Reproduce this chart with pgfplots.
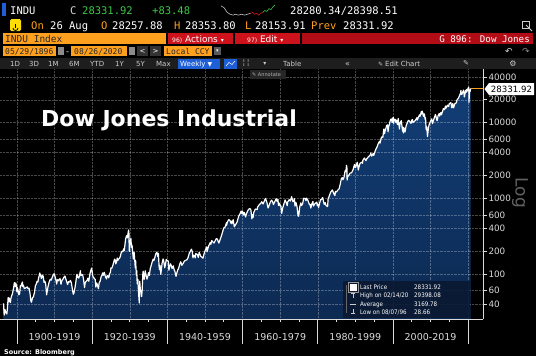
\documentclass[border=0pt]{standalone}
\usepackage{pgfplots}
\pgfplotsset{compat=1.18}
\usepackage{pgfplotstable}
\usepackage{fontspec}
\setmainfont{DejaVu Sans}
\newfontfamily\mono{DejaVu Sans Mono}
\newfontfamily\cond{DejaVu Sans Condensed}
\definecolor{bbamber}{RGB}{255,160,30}
\definecolor{bbgreen}{RGB}{60,200,70}
\definecolor{bbred}{RGB}{205,18,28}
\definecolor{bbdred}{RGB}{178,12,22}
\definecolor{bbbar}{RGB}{30,30,30}
\definecolor{bbblue}{RGB}{30,95,215}
\definecolor{filltop}{RGB}{18,62,118}
\definecolor{fillbot}{RGB}{10,32,66}
\definecolor{axc}{RGB}{218,218,218}
\definecolor{legbg}{RGB}{10,24,48}

\pgfplotstableread{
x y
1896.40 40.9
1896.45 38.5
1896.52 33.0
1896.60 28.7
1896.68 31.5
1896.80 34.0
1896.95 31.8
1897.10 30.5
1897.30 29.6
1897.45 35.0
1897.65 49.0
1897.80 43.0
1897.95 48.0
1898.10 44.0
1898.25 42.0
1898.40 48.0
1898.60 52.0
1898.80 55.0
1898.95 60.5
1899.15 68.0
1899.30 77.0
1899.45 68.0
1899.65 76.0
1899.85 71.0
1899.97 58.0
1900.10 66.0
1900.30 60.0
1900.50 53.0
1900.70 55.0
1900.90 70.0
1901.05 69.0
1901.30 75.0
1901.45 78.3
1901.55 68.0
1901.70 71.0
1901.95 64.0
1902.20 65.0
1902.45 66.0
1902.70 67.5
1902.95 64.0
1903.20 65.0
1903.45 56.0
1903.70 44.0
1903.85 42.2
1904.10 48.0
1904.40 50.5
1904.65 57.0
1904.90 70.0
1905.10 73.0
1905.35 80.0
1905.55 78.0
1905.80 91.0
1905.95 96.0
1906.05 103.0
1906.30 95.0
1906.50 87.0
1906.75 96.0
1906.95 94.0
1907.20 77.0
1907.40 80.0
1907.60 76.0
1907.88 53.0
1908.05 60.0
1908.30 70.0
1908.55 78.0
1908.85 85.0
1909.10 83.0
1909.40 91.0
1909.70 99.0
1909.90 100.5
1910.10 93.0
1910.35 84.0
1910.55 73.6
1910.75 84.0
1910.95 81.0
1911.20 84.0
1911.45 87.0
1911.70 73.0
1911.95 82.0
1912.20 85.0
1912.45 90.0
1912.75 94.0
1912.95 87.0
1913.20 80.0
1913.45 72.5
1913.70 79.0
1913.95 78.0
1914.20 82.0
1914.45 77.0
1914.55 71.4
1914.96 54.0
1915.15 56.0
1915.40 65.0
1915.60 75.0
1915.85 93.0
1915.95 99.0
1916.20 90.0
1916.45 88.0
1916.70 100.0
1916.88 110.0
1916.98 95.0
1917.20 96.0
1917.45 98.0
1917.70 85.0
1917.96 66.0
1918.15 77.0
1918.40 80.0
1918.65 82.0
1918.85 88.0
1919.10 80.0
1919.40 100.0
1919.60 110.0
1919.85 119.6
1919.98 108.0
1920.20 92.0
1920.40 90.0
1920.60 86.0
1920.80 85.0
1920.97 67.0
1921.20 76.0
1921.45 70.0
1921.65 63.9
1921.85 76.0
1922.10 80.0
1922.40 93.0
1922.60 96.0
1922.78 103.4
1922.95 96.0
1923.20 105.0
1923.40 96.0
1923.60 90.0
1923.82 86.0
1923.98 95.0
1924.20 94.0
1924.40 89.0
1924.65 101.0
1924.85 105.0
1924.98 120.0
1925.20 119.0
1925.40 125.0
1925.70 142.0
1925.95 157.0
1926.15 152.0
1926.25 136.0
1926.45 142.0
1926.65 162.0
1926.85 151.0
1926.98 157.0
1927.20 160.0
1927.45 168.0
1927.70 190.0
1927.95 200.0
1928.15 198.0
1928.40 215.0
1928.50 202.0
1928.70 240.0
1928.90 295.0
1928.98 300.0
1929.15 320.0
1929.35 300.0
1929.50 335.0
1929.68 381.2
1929.78 340.0
1929.83 230.0
1929.87 198.7
1929.98 248.0
1930.15 270.0
1930.29 294.0
1930.45 225.0
1930.60 240.0
1930.80 185.0
1930.96 157.5
1931.15 194.0
1931.35 145.0
1931.45 121.0
1931.55 150.0
1931.75 96.0
1931.85 110.0
1931.97 74.0
1932.15 85.0
1932.30 60.0
1932.52 41.2
1932.65 79.9
1932.80 62.0
1932.95 60.0
1933.15 50.2
1933.30 62.0
1933.45 98.0
1933.55 108.7
1933.70 92.0
1933.82 85.0
1933.98 100.0
1934.10 110.0
1934.40 92.0
1934.58 85.5
1934.80 93.0
1934.98 104.0
1935.20 96.0
1935.45 118.0
1935.70 130.0
1935.95 144.0
1936.20 157.0
1936.40 150.0
1936.70 168.0
1936.90 184.0
1937.20 194.4
1937.45 170.0
1937.60 187.0
1937.80 125.0
1937.90 114.0
1938.05 130.0
1938.25 99.0
1938.45 120.0
1938.60 140.0
1938.85 158.0
1939.00 150.0
1939.30 121.0
1939.55 140.0
1939.70 155.9
1939.95 150.0
1940.25 148.0
1940.40 112.0
1940.60 125.0
1940.85 136.0
1940.98 131.0
1941.25 118.0
1941.55 128.0
1941.80 113.0
1941.95 110.0
1942.30 92.9
1942.55 105.0
1942.80 114.0
1942.98 119.0
1943.30 135.0
1943.55 145.0
1943.85 130.0
1944.20 138.0
1944.50 148.0
1944.95 152.0
1945.25 155.0
1945.50 165.0
1945.85 190.0
1945.98 193.0
1946.40 212.5
1946.65 195.0
1946.80 163.1
1946.98 177.0
1947.20 175.0
1947.40 163.0
1947.55 186.0
1947.98 181.0
1948.20 165.0
1948.45 193.0
1948.85 172.0
1949.45 161.6
1949.80 188.0
1949.98 200.0
1950.45 228.0
1950.55 197.0
1950.98 235.0
1951.40 260.0
1951.55 246.0
1951.80 276.0
1951.98 269.0
1952.40 256.0
1952.98 292.0
1953.25 290.0
1953.70 255.5
1953.98 281.0
1954.50 335.0
1954.98 404.0
1955.40 420.0
1955.70 475.0
1955.75 440.0
1955.98 488.0
1956.30 521.0
1956.60 515.0
1956.85 470.0
1956.98 499.0
1957.15 460.0
1957.50 520.0
1957.80 419.8
1957.98 436.0
1958.50 480.0
1958.98 583.0
1959.30 620.0
1959.60 678.0
1959.75 630.0
1959.98 679.0
1960.20 600.0
1960.45 650.0
1960.80 566.0
1960.98 615.0
1961.40 690.0
1961.70 720.0
1961.90 734.0
1962.20 705.0
1962.47 535.8
1962.65 610.0
1962.80 558.0
1962.98 652.0
1963.40 720.0
1963.89 711.0
1963.98 762.0
1964.40 820.0
1964.98 874.0
1965.10 900.0
1965.45 840.0
1965.98 969.0
1966.10 995.0
1966.50 870.0
1966.77 744.3
1966.98 785.0
1967.40 900.0
1967.70 943.0
1967.98 905.0
1968.20 825.0
1968.55 900.0
1968.92 985.0
1969.20 905.0
1969.40 970.0
1969.55 801.0
1969.85 860.0
1969.98 800.0
1970.20 790.0
1970.40 631.0
1970.65 740.0
1970.98 838.0
1971.30 950.0
1971.60 880.0
1971.88 798.0
1971.98 890.0
1972.40 960.0
1972.70 920.0
1972.98 1020.0
1973.03 1051.0
1973.40 900.0
1973.60 920.0
1973.80 987.0
1973.93 788.0
1974.20 880.0
1974.50 760.0
1974.75 584.0
1974.85 660.0
1974.93 577.6
1975.20 770.0
1975.50 870.0
1975.70 800.0
1975.98 852.0
1976.25 1000.0
1976.70 990.0
1976.85 930.0
1976.98 1004.0
1977.40 930.0
1977.80 820.0
1977.98 831.0
1978.15 742.0
1978.45 850.0
1978.70 907.0
1978.85 790.0
1979.20 845.0
1979.75 890.0
1979.85 800.0
1980.00 838.0
1980.22 759.0
1980.45 850.0
1980.75 960.0
1980.98 964.0
1981.30 1024.0
1981.70 830.0
1981.98 875.0
1982.20 800.0
1982.61 777.0
1982.75 990.0
1982.98 1046.0
1983.40 1200.0
1983.85 1287.0
1983.98 1258.0
1984.25 1150.0
1984.55 1086.0
1984.70 1230.0
1984.98 1211.0
1985.30 1280.0
1985.65 1330.0
1985.98 1546.0
1986.25 1800.0
1986.50 1870.0
1986.70 1760.0
1986.98 1895.0
1987.25 2300.0
1987.45 2250.0
1987.65 2722.0
1987.75 2500.0
1987.80 1738.0
1987.90 1900.0
1987.98 1938.0
1988.30 2030.0
1988.60 2150.0
1988.98 2168.0
1989.40 2400.0
1989.75 2790.0
1989.80 2570.0
1989.98 2753.0
1990.05 2550.0
1990.50 2990.0
1990.78 2365.0
1990.98 2633.0
1991.25 2900.0
1991.70 3000.0
1991.90 2900.0
1991.98 3168.0
1992.40 3400.0
1992.80 3140.0
1992.98 3301.0
1993.50 3550.0
1993.98 3754.0
1994.10 3970.0
1994.30 3600.0
1994.75 3900.0
1994.90 3680.0
1994.98 3834.0
1995.40 4400.0
1995.80 4800.0
1995.98 5117.0
1996.40 5650.0
1996.55 5350.0
1996.85 6200.0
1996.98 6448.0
1997.30 6400.0
1997.55 8100.0
1997.60 8222.0
1997.78 7161.0
1997.90 7800.0
1997.98 7908.0
1998.30 9100.0
1998.55 9337.0
1998.68 7539.0
1998.85 8900.0
1998.98 9181.0
1999.30 10800.0
1999.55 11200.0
1999.80 10000.0
1999.97 11497.0
2000.05 11723.0
2000.20 9796.0
2000.30 11100.0
2000.60 11000.0
2000.80 10000.0
2000.98 10787.0
2001.20 9400.0
2001.40 11300.0
2001.72 8236.0
2001.85 9500.0
2001.98 10021.0
2002.20 10600.0
2002.55 7700.0
2002.65 8700.0
2002.77 7286.0
2002.85 8600.0
2002.98 8341.0
2003.20 7524.0
2003.50 9100.0
2003.98 10453.0
2004.20 10700.0
2004.80 9750.0
2004.98 10783.0
2005.20 10900.0
2005.30 10000.0
2005.98 10717.0
2006.35 11600.0
2006.45 10800.0
2006.98 12463.0
2007.15 12700.0
2007.20 12100.0
2007.55 14000.0
2007.65 13000.0
2007.78 14164.0
2007.95 13300.0
2008.10 12100.0
2008.35 13000.0
2008.55 11000.0
2008.65 11600.0
2008.80 8400.0
2008.88 8000.0
2008.98 8776.0
2009.18 6547.0
2009.45 8700.0
2009.70 9700.0
2009.98 10428.0
2010.30 11200.0
2010.50 9686.0
2010.98 11577.0
2011.30 12800.0
2011.45 12000.0
2011.60 11000.0
2011.75 10655.0
2011.98 12217.0
2012.30 13200.0
2012.40 12200.0
2012.75 13600.0
2012.90 12700.0
2012.98 13104.0
2013.40 15300.0
2013.70 14800.0
2013.98 16576.0
2014.10 15500.0
2014.50 17000.0
2014.80 16300.0
2014.98 17823.0
2015.40 18300.0
2015.65 15666.0
2015.90 17800.0
2015.98 17425.0
2016.10 15660.0
2016.50 17900.0
2016.85 18200.0
2016.98 19762.0
2017.40 21000.0
2017.80 23400.0
2017.98 24719.0
2018.07 26616.0
2018.12 23860.0
2018.30 23500.0
2018.75 26828.0
2018.88 24500.0
2018.98 21792.0
2019.30 26500.0
2019.40 25000.0
2019.55 27300.0
2019.65 25600.0
2019.98 28538.0
2020.12 29398.0
2020.18 25400.0
2020.22 18591.0
2020.30 23700.0
2020.45 27110.0
2020.55 25900.0
2020.65 28331.9
}\djia

\begin{document}
\begin{tikzpicture}
\fill[black] (0pt,0pt) rectangle (536pt,-356pt);
\useasboundingbox (0pt,0pt) rectangle (536pt,-356pt);

\begin{axis}[
  at={(0pt,-319pt)}, anchor=south west,
  width=483pt, height=250pt, scale only axis,
  xmin=1895.48, xmax=2023.94,
  ymode=log, ymin=25.4, ymax=51030,
  axis x line*=bottom, axis y line*=right,
  axis line style={draw=axc, line width=0.7pt},
  axis on top,
  /pgf/number format/assume math mode=true,
  ytick={40,60,100,200,400,600,1000,2000,4000,6000,10000,20000,40000},
  yticklabels={40,60,100,200,400,600,1000,2000,4000,6000,10000,20000,40000},
  yticklabel style={font=\fontsize{8.8}{10}\selectfont, text=axc, xshift=-1.5pt},
  ytick style={draw=axc, line width=0.6pt},
  ymajorgrids, xmajorgrids,
  grid style={densely dotted, draw=white, draw opacity=0.28, line width=0.5pt},
  major tick length=3.5pt, minor tick length=3pt, tick align=outside,
  xtick={1910,1930,1950,1970,1990,2010},
  xticklabels={1900-1919,1920-1939,1940-1959,1960-1979,1980-1999,2000-2019},
  xticklabel style={font=\fontsize{9.5}{11}\selectfont, text=axc, yshift=-7pt},
  xtick style={draw=axc, line width=0.6pt},
  minor xtick={1905,1915,1925,1935,1945,1955,1965,1975,1985,1995,2005,2015},
  extra x ticks={1900,1920,1940,1960,1980,2000,2020},
  extra x tick labels={},
  extra x tick style={grid=major, major tick length=25pt},
]
\addplot[draw=none, top color=filltop, bottom color=fillbot] table[x=x,y=y] {\djia} \closedcycle;
\addplot[white, line width=1.2pt, line join=round] table[x=x,y=y] {\djia};
\addplot[bbamber, line width=0.7pt] coordinates {(2020.65,28331.92) (2023.94,28331.92)};
\end{axis}

% sparkline
\begin{axis}[
  at={(221pt,-17pt)}, anchor=south west,
  width=54pt, height=13pt, scale only axis, hide axis,
  xmin=0, xmax=53, ymin=0, ymax=14, clip=false]
\addplot[white!75!black, line width=0.6pt] coordinates {(0,12) (3,10) (6,5) (9,3) (12,2) (14,3) (17,2) (20,3) (23,2) (26,3) (29,4)};
\addplot[bbred, line width=0.6pt] coordinates {(29,4) (31,5) (33,3) (35,4) (37,2) (39,4) (41,5)};
\addplot[bbgreen, line width=0.6pt] coordinates {(41,5) (43,7) (45,6) (47,9) (49,8) (51,11) (53,13)};
\end{axis}

\begin{scope}[x=1pt,y=-1pt]
% ---------- row 1
\fill[bbblue] (2,3) rectangle (6,16);
\node[anchor=base west, inner sep=0, text=white, font=\mono\fontsize{10.5}{12}\selectfont] at (10,14) {INDU};
\node[anchor=base west, inner sep=0, text=white!85!black, font=\mono\fontsize{10.5}{12}\selectfont] at (70,14) {C};
\node[anchor=base west, inner sep=0, text=bbgreen, font=\mono\fontsize{10.5}{12}\selectfont] at (82,14) {28331.92};
\node[anchor=base west, inner sep=0, text=bbgreen, font=\mono\fontsize{10.5}{12}\selectfont] at (152,14) {+83.48};
\node[anchor=base west, inner sep=0, text=white, font=\mono\fontsize{10.5}{12}\selectfont] at (290,14) {28280.34/28398.51};
% ---------- row 2
\fill[rounded corners=1.5pt, yellow!80!orange] (10,19) rectangle (21,31);
\draw[black, line width=0.8pt] (13,28) arc[start angle=180, end angle=0, radius=2.5];
\draw[black, line width=0.8pt] (15.5,28) -- (15.5,24);
\node[anchor=base west, inner sep=0, text=bbamber, font=\mono\fontsize{10.5}{12}\selectfont] at (31,29) {On};
\node[anchor=base west, inner sep=0, text=white, font=\mono\fontsize{10.5}{12}\selectfont] at (50,29) {26 Aug};
\node[anchor=base west, inner sep=0, text=bbamber, font=\mono\fontsize{10.5}{12}\selectfont] at (101,29) {O};
\node[anchor=base west, inner sep=0, text=white, font=\mono\fontsize{10.5}{12}\selectfont] at (112,29) {28257.88};
\node[anchor=base west, inner sep=0, text=bbamber, font=\mono\fontsize{10.5}{12}\selectfont] at (174,29) {H};
\node[anchor=base west, inner sep=0, text=white, font=\mono\fontsize{10.5}{12}\selectfont] at (185,29) {28353.80};
\node[anchor=base west, inner sep=0, text=bbamber, font=\mono\fontsize{10.5}{12}\selectfont] at (245,29) {L};
\node[anchor=base west, inner sep=0, text=white, font=\mono\fontsize{10.5}{12}\selectfont] at (255,29) {28153.91};
\node[anchor=base west, inner sep=0, text=bbamber, font=\mono\fontsize{10.5}{12}\selectfont] at (311,29) {Prev};
\node[anchor=base west, inner sep=0, text=white, font=\mono\fontsize{10.5}{12}\selectfont] at (343,29) {28331.92};
\draw[white!80!black, line width=0.8pt] (522,21) rectangle (529,28);
\draw[white!80!black, line width=0.8pt] (526,25) -- (532,31);
% ---------- row 3
\fill[bbamber] (3,33) rectangle (166,44);
\node[anchor=base west, inner sep=0, text=black!85, font=\mono\fontsize{9.5}{11}\selectfont] at (5,42) {INDU Index};
\fill[bbred] (168,33) rectangle (233,44);
\fill[bbred] (235,33) rectangle (300,44);
\fill[bbdred] (302,33) rectangle (533,44);
\node[anchor=base west, inner sep=0, text=white, font=\fontsize{9}{11}\selectfont] at (172,42) {{\fontsize{6}{7}\selectfont 96)} Actions {\fontsize{6}{7}\selectfont ▾}};
\node[anchor=base west, inner sep=0, text=white, font=\fontsize{9}{11}\selectfont] at (247,42) {{\fontsize{6}{7}\selectfont 97)} Edit {\fontsize{6}{7}\selectfont ▾}};
\node[anchor=base east, inner sep=0, text=white, font=\mono\fontsize{9.2}{11}\selectfont] at (530,42) {G 896: Dow Jones};
% ---------- row 4
\fill[bbamber] (3,46) rectangle (56,56);
\node[anchor=base west, inner sep=0, text=black!85, font=\mono\fontsize{8}{10}\selectfont] at (5,54.3) {05/29/1896};
\fill[white!55!black] (58,47) rectangle (64,55);
\node[anchor=base west, inner sep=0, text=white, font=\fontsize{8}{10}\selectfont] at (66,54.3) {-};
\fill[bbamber] (71,46) rectangle (127,56);
\node[anchor=base west, inner sep=0, text=black!85, font=\mono\fontsize{8}{10}\selectfont] at (74,54.3) {08/26/2020};
\fill[white!55!black] (129,47) rectangle (135,55);
\fill[white!20!black] (137,46) rectangle (148,56);
\fill[white!20!black] (150,46) rectangle (161,56);
\node[text=white, inner sep=0, font=\fontsize{7}{8}\selectfont] at (142.5,51) {<};
\node[text=white, inner sep=0, font=\fontsize{7}{8}\selectfont] at (155.5,51) {>};
\fill[bbamber] (164,46) rectangle (212,56);
\node[anchor=base west, inner sep=0, text=black!85, font=\mono\fontsize{8}{10}\selectfont] at (166,54.3) {Local CCY};
\fill[white!35!black] (214,47) rectangle (221,55);
\node[text=white, inner sep=0, font=\fontsize{5}{6}\selectfont] at (217.5,51) {▾};
\node[text=white!85!black, inner sep=0, font=\fontsize{9}{10}\selectfont] at (509,51) {↶};
\node[text=white!55!black, inner sep=0, font=\fontsize{9}{10}\selectfont] at (526,51) {↷};
% ---------- row 5 toolbar
\fill[bbbar] (0,58) rectangle (536,69);
\foreach \t/\xx in {1D/10,3D/29,1M/48,6M/69,YTD/90,1Y/115,5Y/136,Max/156}{
  \node[anchor=base west, inner sep=0, text=white!80!black, font=\fontsize{7}{8}\selectfont] at (\xx,66.5) {\t};
}
\fill[bbblue] (178,58.5) rectangle (220,68.5);
\node[anchor=base west, inner sep=0, text=white, font=\fontsize{7}{8}\selectfont] at (180,66.5) {Weekly {\fontsize{6}{7}\selectfont ▼}};
\fill[bbblue] (224,58.5) rectangle (237,68.5);
\draw[white, line width=0.5pt] (226,66) -- (229,62.5) -- (232,64.5) -- (235,61);
\node[inner sep=0, text=white!80!black, font=\fontsize{7}{8}\selectfont] at (246,63.5) {╎╎};
\node[inner sep=0, text=white!80!black, font=\fontsize{6}{7}\selectfont] at (265,63.5) {▾};
\node[anchor=base west, inner sep=0, text=white!80!black, font=\fontsize{7}{8}\selectfont] at (283,66.5) {Table};
\node[anchor=base west, inner sep=0, text=white!80!black, font=\fontsize{8}{8}\selectfont] at (345,66.5) {«};
\node[anchor=base west, inner sep=0, text=white!80!black, font=\fontsize{7}{8}\selectfont] at (378,66.5) {\fontsize{6}{7}\selectfont ✎ \fontsize{7}{8}\selectfont Edit Chart};
\node[inner sep=0, text=white!80!black, font=\fontsize{7}{8}\selectfont] at (466,63.5) {✎};
\node[inner sep=0, text=white!80!black, font=\fontsize{8}{8}\selectfont] at (513,63.5) {⚙};
% annotate tag
\fill[white!15!black] (250,70) rectangle (286,78.5);
\node[anchor=base west, inner sep=0, text=white!70!black, font=\fontsize{5}{6}\selectfont] at (252,76.5) {✎ Annotate};
% ---------- title
\node[anchor=base west, inner sep=0, text=white, font=\bfseries\fontsize{22}{26}\selectfont] at (41,126) {Dow Jones Industrial};
% ---------- price label
\fill[white] (484.5,89) -- (489,83) -- (534,83) -- (534,95) -- (489,95) -- cycle;
\node[inner sep=0, text=black, font=\fontsize{8.6}{10}\selectfont] at (511.5,89) {28331.92};
% ---------- Log
\node[rotate=-90, inner sep=0, text=white!38!black, font=\fontsize{17}{20}\selectfont] at (520,193) {Log};
% ---------- legend box
\fill[legbg, opacity=0.88] (343,281) rectangle (470,318);
\draw[white!40!black, line width=0.4pt] (346,285) -- (346,313);
\fill[white] (350,284) rectangle (357,291);
\draw[white!60!black, line width=0.4pt] (348.5,282.5) rectangle (358.5,292.5);
\draw[white!80!black, line width=0.5pt] (351,293.5) -- (355,293.5) (353,293.5) -- (353,298);
\draw[white!80!black, line width=0.5pt] (350,304) -- (356,304);
\draw[white!80!black, line width=0.5pt] (351,313) -- (355,313) (353,313) -- (353,308.5);
\node[anchor=base west, inner sep=0, text=white, font=\cond\fontsize{6.2}{7}\selectfont] at (360,289.5) {Last Price};
\node[anchor=base west, inner sep=0, text=white, font=\cond\fontsize{6.2}{7}\selectfont] at (414,289.5) {28331.92};
\node[anchor=base west, inner sep=0, text=white, font=\cond\fontsize{6.2}{7}\selectfont] at (360,297.5) {High on 02/14/20};
\node[anchor=base west, inner sep=0, text=white, font=\cond\fontsize{6.2}{7}\selectfont] at (414,297.5) {29398.08};
\node[anchor=base west, inner sep=0, text=white, font=\cond\fontsize{6.2}{7}\selectfont] at (360,306) {Average};
\node[anchor=base west, inner sep=0, text=white, font=\cond\fontsize{6.2}{7}\selectfont] at (414,306) {3169.78};
\node[anchor=base west, inner sep=0, text=white, font=\cond\fontsize{6.2}{7}\selectfont] at (360,314) {Low on 08/07/96};
\node[anchor=base west, inner sep=0, text=white, font=\cond\fontsize{6.2}{7}\selectfont] at (414,314) {28.66};
% ---------- source
\node[anchor=base west, inner sep=0, text=white, font=\bfseries\fontsize{6.5}{8}\selectfont] at (4,354) {Source: Bloomberg};
\end{scope}
\end{tikzpicture}
\end{document}
